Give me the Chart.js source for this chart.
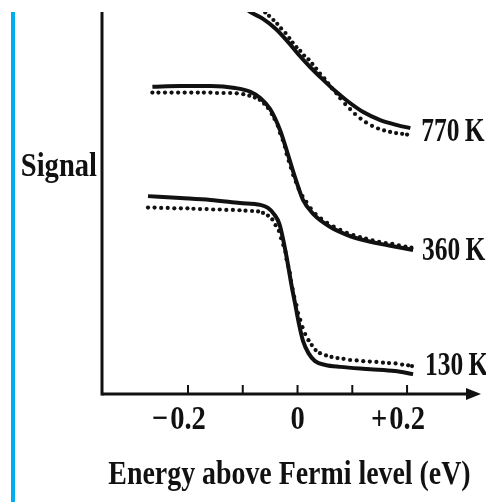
<!DOCTYPE html>
<html>
<head>
<meta charset="utf-8">
<script src="https://cdn.jsdelivr.net/npm/chart.js@4.4.1/dist/chart.umd.min.js"></script>
<style>
  html, body { margin: 0; padding: 0; background: #fff; }
  canvas { display: block; }
</style>
</head>
<body>
<canvas id="fermi" width="486" height="502"></canvas>
<script>
// Fermi edge: signal vs energy at three temperatures
// solid line = calculated curve, dots = measured points

const fit770E = [-0.105, -0.086, -0.063, -0.039, -0.017, 0.001, 0.023, 0.045, 0.069, 0.091, 0.120, 0.151, 0.182, 0.206]
const fit770S = [10.21, 10.0, 9.82, 9.55, 9.21, 8.90, 8.56, 8.25, 7.93, 7.67, 7.38, 7.17, 7.04, 6.96]
const dots770E = [-0.059, -0.052, -0.044, -0.037, -0.030, -0.022, -0.015, -0.009, -0.002, 0.005, 0.012, 0.020, 0.027, 0.034, 0.041, 0.049, 0.056, 0.063, 0.071, 0.078, 0.087, 0.096, 0.105, 0.115, 0.125, 0.136, 0.147, 0.158, 0.169, 0.180, 0.191, 0.200]
const dots770S = [9.99, 9.90, 9.79, 9.69, 9.57, 9.45, 9.32, 9.20, 9.08, 8.98, 8.86, 8.76, 8.64, 8.52, 8.39, 8.26, 8.13, 8.00, 7.87, 7.74, 7.59, 7.46, 7.33, 7.21, 7.11, 7.02, 6.95, 6.90, 6.86, 6.83, 6.81, 6.79]

const fit360E = [-0.265, -0.214, -0.159, -0.114, -0.086, -0.068, -0.050, -0.032, -0.019, -0.004, 0.010, 0.029, 0.060, 0.091, 0.120, 0.151, 0.182, 0.211]
const fit360S = [8.04, 8.06, 8.06, 8.01, 7.91, 7.75, 7.46, 6.91, 6.34, 5.65, 5.08, 4.71, 4.37, 4.16, 4.03, 3.93, 3.85, 3.77]
const dots360E = [-0.265, -0.254, -0.242, -0.230, -0.218, -0.206, -0.194, -0.182, -0.171, -0.159, -0.147, -0.135, -0.123, -0.111, -0.099, -0.088, -0.078, -0.069, -0.061, -0.054, -0.047, -0.042, -0.036, -0.032, -0.027, -0.023, -0.020, -0.016, -0.012, -0.008, -0.003, 0.002, 0.009, 0.016, 0.024, 0.033, 0.043, 0.054, 0.066, 0.078, 0.090, 0.102, 0.114, 0.125, 0.137, 0.149, 0.161, 0.173, 0.185, 0.197, 0.208]
const dots360S = [7.89, 7.89, 7.89, 7.89, 7.89, 7.89, 7.89, 7.89, 7.89, 7.89, 7.88, 7.88, 7.88, 7.87, 7.85, 7.81, 7.76, 7.70, 7.60, 7.49, 7.33, 7.20, 7.02, 6.83, 6.65, 6.47, 6.28, 6.10, 5.92, 5.73, 5.55, 5.37, 5.18, 5.03, 4.86, 4.71, 4.59, 4.48, 4.38, 4.30, 4.22, 4.16, 4.11, 4.07, 4.02, 3.98, 3.95, 3.93, 3.89, 3.86, 3.83]

const fit130E = [-0.273, -0.214, -0.159, -0.105, -0.068, -0.054, -0.043, -0.033, -0.026, -0.019, -0.012, -0.004, 0.003, 0.010, 0.020, 0.032, 0.051, 0.078, 0.133, 0.178, 0.211]
const fit130S = [5.18, 5.13, 5.08, 5.00, 4.95, 4.87, 4.71, 4.45, 4.03, 3.51, 2.93, 2.33, 1.81, 1.39, 1.07, 0.86, 0.76, 0.71, 0.65, 0.60, 0.52]
const dots130E = [-0.273, -0.261, -0.249, -0.237, -0.225, -0.213, -0.201, -0.190, -0.178, -0.166, -0.154, -0.142, -0.130, -0.118, -0.106, -0.095, -0.083, -0.072, -0.063, -0.054, -0.046, -0.040, -0.034, -0.030, -0.026, -0.022, -0.020, -0.017, -0.014, -0.012, -0.009, -0.006, -0.002, 0.001, 0.005, 0.009, 0.014, 0.020, 0.026, 0.033, 0.041, 0.052, 0.062, 0.073, 0.084, 0.096, 0.108, 0.120, 0.132, 0.144, 0.156, 0.167, 0.179, 0.191, 0.202, 0.209]
const dots130S = [4.88, 4.88, 4.87, 4.87, 4.86, 4.86, 4.86, 4.85, 4.84, 4.84, 4.83, 4.83, 4.82, 4.82, 4.81, 4.80, 4.79, 4.78, 4.74, 4.67, 4.57, 4.42, 4.27, 4.08, 3.90, 3.72, 3.53, 3.35, 3.17, 2.96, 2.75, 2.54, 2.33, 2.12, 1.94, 1.75, 1.57, 1.41, 1.28, 1.15, 1.07, 1.01, 0.97, 0.94, 0.92, 0.89, 0.88, 0.86, 0.85, 0.84, 0.82, 0.81, 0.80, 0.77, 0.75, 0.73]

// thin space between number and unit, as typeset
const tempLabels = ['770\u2009K', '360\u2009K', '130\u2009K']
const tickMarks = [-0.2, -0.1, 0, 0.1, 0.2]
const tickLabels = [[-0.2, '−', '0.2'], [0, '', '0'], [0.2, '+', '0.2']]
const xTitle = 'Energy above Fermi level (eV)'
const yTitle = 'Signal'

const pairs = (xs, ys) => xs.map((x, i) => ({ x: x, y: ys[i] }))

const INK = '#111'
const FONT = 'bold 34px "Liberation Serif", "Times New Roman", serif'
const SQUEEZE = 0.84

function fitSet(xs, ys) {
   return {
      data: pairs(xs, ys),
      borderColor: INK,
      borderWidth: 4,
      pointRadius: 0,
      cubicInterpolationMode: 'monotone',
      fill: false
   }
}

function dotSet(xs, ys) {
   return {
      data: pairs(xs, ys),
      showLine: false,
      pointRadius: 2.1,
      pointBorderWidth: 0,
      pointBackgroundColor: INK,
      pointStyle: 'circle'
   }
}

// narrow serif text, like the printed figure
function squeezed(ctx, str, x, y, align, k = SQUEEZE) {
   ctx.save()
   ctx.translate(x, y)
   ctx.scale(k, 1)
   ctx.textAlign = align
   ctx.textBaseline = 'alphabetic'
   ctx.fillText(str, 0, 0)
   ctx.restore()
}

const framePlugin = {
   id: 'frame',
   beforeDatasetsDraw(chart) {
      const { ctx, chartArea: a, scales: { x } } = chart
      ctx.save()

      // blue margin rule
      ctx.fillStyle = '#00aeef'
      ctx.fillRect(11, 12, 4, 490)

      ctx.strokeStyle = INK
      ctx.fillStyle = INK
      ctx.lineWidth = 3
      ctx.lineCap = 'butt'

      // y axis
      ctx.beginPath()
      ctx.moveTo(a.left, a.top)
      ctx.lineTo(a.left, a.bottom + 1.5)
      ctx.stroke()

      // x axis with arrow head
      ctx.beginPath()
      ctx.moveTo(a.left, a.bottom)
      ctx.lineTo(a.right - 10, a.bottom)
      ctx.stroke()
      ctx.beginPath()
      ctx.moveTo(a.right, a.bottom)
      ctx.lineTo(a.right - 15, a.bottom - 6)
      ctx.lineTo(a.right - 15, a.bottom + 6)
      ctx.closePath()
      ctx.fill()

      // tick marks pointing up
      ctx.lineWidth = 2
      tickMarks.forEach(v => {
         const px = x.getPixelForValue(v)
         ctx.beginPath()
         ctx.moveTo(px, a.bottom)
         ctx.lineTo(px, a.bottom - 9)
         ctx.stroke()
      })
      ctx.restore()
   },
   afterDraw(chart) {
      const { ctx, chartArea: a, scales: { x, y }, data } = chart
      ctx.save()
      ctx.fillStyle = INK
      ctx.font = FONT

      // tick labels: number centred on the tick, sign hangs to the left
      tickLabels.forEach(([v, sign, num]) => {
         const px = x.getPixelForValue(v)
         const w = ctx.measureText(num).width * SQUEEZE
         squeezed(ctx, num, px, a.bottom + 35, 'center')
         if (sign) squeezed(ctx, sign, px - w / 2 - 2, a.bottom + 35, 'right')
      })

      // temperature labels beside the end of each fitted curve
      const offsets = [[11, 13], [9, 10], [12, 1]]
      tempLabels.forEach((label, i) => {
         const pts = data.datasets[i * 2].data
         const last = pts[pts.length - 1]
         const px = x.getPixelForValue(last.x) + offsets[i][0]
         const py = y.getPixelForValue(last.y) + offsets[i][1]
         squeezed(ctx, label, px, py, 'left', 0.75)
      })

      squeezed(ctx, yTitle, a.left - 5, 176, 'right')
      squeezed(ctx, xTitle, (a.left + a.right) / 2 - 2, 484, 'center', 0.82)
      ctx.restore()
   }
}

new Chart(document.getElementById('fermi'), {
   type: 'line',
   data: {
      datasets: [
         fitSet(fit770E, fit770S), dotSet(dots770E, dots770S),
         fitSet(fit360E, fit360S), dotSet(dots360E, dots360S),
         fitSet(fit130E, fit130S), dotSet(dots130E, dots130S)
      ]
   },
   options: {
      responsive: false,
      animation: false,
      devicePixelRatio: 1,
      layout: { padding: { left: 102, right: 5, top: 12, bottom: 108 } },
      plugins: { legend: { display: false }, tooltip: { enabled: false } },
      scales: {
         x: { type: 'linear', min: -0.357, max: 0.335, display: false },
         y: { type: 'linear', min: 0, max: 10, display: false }
      }
   },
   plugins: [framePlugin]
})
</script>
</body>
</html>
